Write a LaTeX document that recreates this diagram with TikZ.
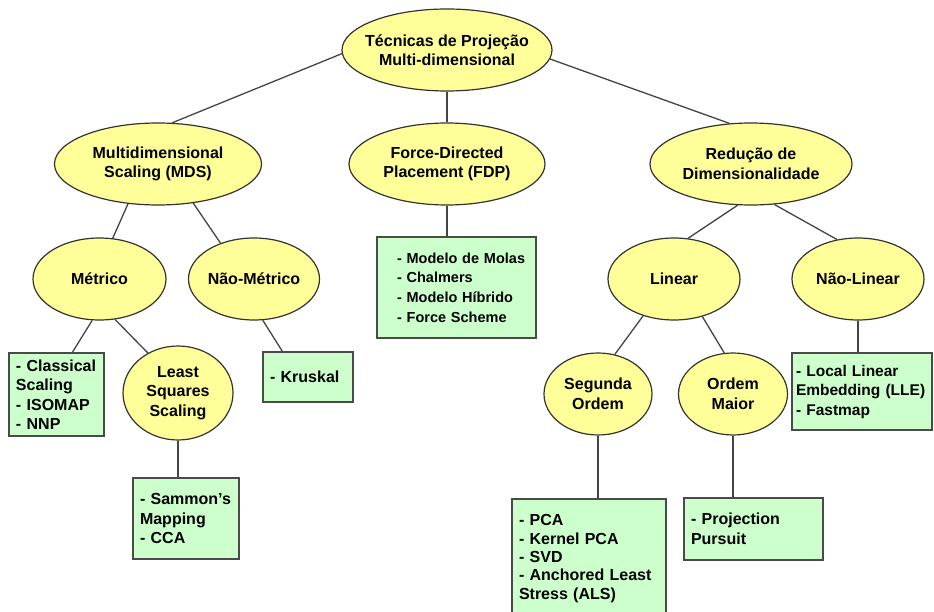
\documentclass[tikz,border=0pt]{standalone}
\usepackage{fontspec}
\setmainfont{Liberation Sans}
\usetikzlibrary{shapes.geometric,calc}
\definecolor{ellfill}{HTML}{FFFF99}
\definecolor{boxfill}{HTML}{CCFFCC}
\definecolor{edgecol}{HTML}{333333}
\definecolor{boxedge}{HTML}{4A4A4A}
\definecolor{linecol}{HTML}{444444}
\tikzset{
  ell/.style={ellipse, draw=edgecol, line width=1.2pt, fill=ellfill, inner sep=0pt},
  etxt/.style={align=center, font=\fontsize{16}{19.5}\selectfont\bfseries, inner sep=0pt, text=black},
  box/.style={rectangle, draw=boxedge, line width=1.3pt, fill=boxfill, inner ysep=0pt, inner xsep=7pt, align=left, font=\fontsize{16}{19.5}\selectfont\bfseries},
  conn/.style={draw=linecol, line width=1.3pt},
}
\begin{document}
\begin{tikzpicture}[x=1pt,y=-1pt]
\useasboundingbox (0,0) rectangle (934,612);
% ellipses
\node[ell, minimum width=210pt, minimum height=82pt, label={[etxt]center:{Técnicas de Projeção\\Multi-dimensional}}] (top) at (447,50) {};
\node[ell, minimum width=207pt, minimum height=82pt, label={[etxt]center:{Multidimensional\\Scaling (MDS)}}] (mds) at (158,164) {};
\node[ell, minimum width=196pt, minimum height=82pt, label={[etxt]center:{Force-Directed\\Placement (FDP)}}] (fdp) at (447,164) {};
\node[ell, minimum width=202pt, minimum height=82pt, label={[etxt]center:{Redução de\\Dimensionalidade}}] (red) at (751,164) {};
\node[ell, minimum width=133pt, minimum height=82pt, label={[etxt]center:{Métrico}}] (met) at (99.5,279) {};
\node[ell, minimum width=131pt, minimum height=82pt, label={[etxt]center:{Não-Métrico}}] (nmet) at (254,279) {};
\node[ell, minimum width=132pt, minimum height=82pt, label={[etxt]center:{Linear}}] (lin) at (674,279) {};
\node[ell, minimum width=132pt, minimum height=82pt, label={[etxt]center:{Não-Linear}}] (nlin) at (858,279) {};
\node[ell, minimum width=110pt, minimum height=94pt, label={[etxt]center:{Least\\Squares\\Scaling}}] (lss) at (178,393) {};
\node[ell, minimum width=108pt, minimum height=82pt, label={[etxt]center:{Segunda\\Ordem}}] (seg) at (598,394) {};
\node[ell, minimum width=109pt, minimum height=82pt, label={[etxt]center:{Ordem\\Maior}}] (om) at (733,394) {};
% boxes
\node[box, text width=81pt, minimum height=83pt] (cl) at (56.5,394.5) {-~Classical\\Scaling\\-~ISOMAP\\-~NNP};
\node[box, text width=76pt, minimum height=50pt] (kr) at (308,377) {-~Kruskal};
\node[box, text width=92pt, minimum height=81pt] (sam) at (186,518.5) {-~Sammon’s\\Mapping\\-~CCA};
\node[box, inner xsep=20pt, text width=119pt, minimum height=101pt, font=\fontsize{14.5}{19.6}\selectfont\bfseries] (fb) at (456.5,287.5) {\mbox{- Modelo de Molas}\\\mbox{- Chalmers}\\\mbox{- Modelo Híbrido}\\\mbox{- Force Scheme}};
\node[box, text width=140pt, minimum height=119pt, font=\fontsize{16}{18.4}\selectfont\bfseries] (pca) at (589,558.5) {-~PCA\\-~Kernel~PCA\\-~SVD\\-~Anchored~Least\\Stress~(ALS)};
\node[box, text width=125pt, minimum height=62pt] (pp) at (753.5,529) {-~Projection\\Pursuit};
\node[box, inner xsep=4pt, text width=132pt, minimum height=77pt, font=\fontsize{15.5}{19.5}\selectfont\bfseries] (lle) at (862,391.5) {-~Local~Linear\\Embedding~(LLE)\\-~Fastmap};
% connectors
\draw[conn] (top.182) -- (mds.71);
\draw[conn] (top.south) -- (fdp.north);
\draw[conn] (top.-5) -- (red.118);
\draw[conn] (mds.233) -- (met.72);
\draw[conn] (mds.312) -- (nmet.133);
\draw[conn] (met.260) -- ($(cl.north west)+(64pt,0pt)$);
\draw[conn] (met.291) -- (lss.127);
\draw[conn] (nmet.282) -- ($(kr.north west)+(20pt,0pt)$);
\draw[conn] (lss.south) -- (lss.south |- sam.north);
\draw[conn] (fdp.south) -- (fdp.south |- fb.north);
\draw[conn] (red.252) -- (lin.71);
\draw[conn] (red.300) -- (nlin.118);
\draw[conn] (nlin.south) -- (nlin.south |- lle.north);
\draw[conn] (lin.230) -- (seg.67);
\draw[conn] (lin.307) -- (om.102);
\draw[conn] (seg.south) -- (seg.south |- pca.north);
\draw[conn] (om.south) -- (om.south |- pp.north);
\end{tikzpicture}
\end{document}
